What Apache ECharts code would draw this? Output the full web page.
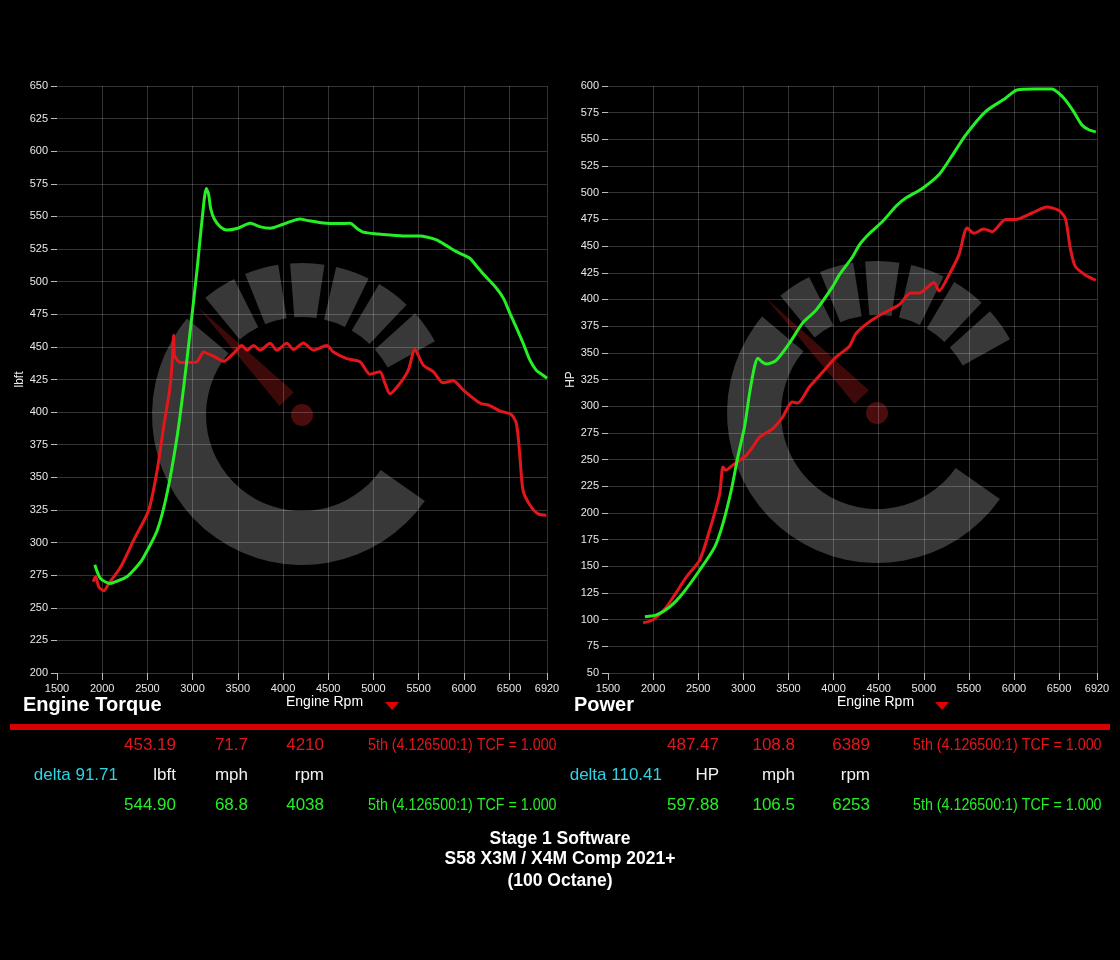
<!DOCTYPE html>
<html>
<head>
<meta charset="utf-8">
<script src="https://cdn.jsdelivr.net/npm/echarts@6/dist/echarts.min.js"></script>
<style>
html, body { margin: 0; padding: 0; background: #000; }
#chart { width: 1120px; height: 960px; }
</style>
</head>
<body>
<div id="chart"></div>
<script>
// dyno data, [rpm, value]
var torqueStock = [[1901,270],[1926,274],[1963,266],[2018,263],[2073,268.6],[2202,281],[2349,302],[2515,325],[2607,355],[2680,389],[2746,417],[2773,437],[2791,459],[2798,444],[2864,438],[2975,438],[3049,438.6],[3122,446],[3159,445],[3232,443],[3343,439],[3453,445],[3545,451],[3601,447.5],[3674,451],[3748,447.5],[3858,452.7],[3932,447.5],[4042,452.7],[4116,448],[4226,453],[4336,447.5],[4484,451],[4557,446],[4705,441],[4852,438.6],[4962,429],[5072,431],[5128,422],[5183,414],[5293,422],[5385,432],[5459,448],[5551,436],[5662,431],[5772,422.5],[5882,424],[5993,417],[6177,407],[6287,405],[6398,401],[6527,398],[6582,391],[6618,368],[6655,340],[6729,329],[6821,322],[6913,321]];
var torqueTuned = [[1918,283],[1981,272.5],[2092,268.6],[2150,270],[2276,274],[2400,283],[2460,289],[2607,309],[2718,338],[2828,381],[2901,419],[2975,463],[3049,509],[3104,547],[3152,571.5],[3177,567],[3200,556],[3240,548],[3306,542],[3380,539.6],[3500,541],[3637,544.7],[3750,542],[3858,541],[4000,544],[4079,546],[4189,548],[4263,547],[4447,545],[4600,544.5],[4741,544.7],[4815,541],[4888,538],[5050,536.5],[5183,535.7],[5350,535],[5514,535],[5600,534],[5698,532],[5800,528],[5919,523],[6066,518],[6140,512],[6213,506],[6361,495],[6440,487],[6508,476],[6580,465],[6655,453],[6730,440],[6802,432],[6860,429],[6920,426]];
var powerStock = [[1890,97],[2001,100],[2149,112],[2370,140],[2517,156],[2627,184],[2738,218],[2774,243],[2804,240],[2885,245],[3033,254],[3106,262],[3180,271],[3327,279],[3437,290],[3541,304],[3603,303],[3732,318],[3879,332],[4027,346],[4174,356],[4248,368],[4380,378],[4506,385],[4727,395],[4856,406],[4948,406],[5114,416],[5169,408],[5279,423],[5390,442],[5481,467],[5555,462],[5666,466],[5758,463.5],[5906,475],[6016,475],[6200,481],[6366,486.6],[6495,483.5],[6569,476],[6624,448],[6679,431],[6790,423],[6907,418]];
var powerTuned = [[1909,102.8],[2038,104.4],[2185,112],[2332,125],[2517,146.5],[2682,168],[2774,190],[2867,221.5],[2940,253],[3014,281],[3069,312],[3124,337],[3161,345],[3200,342],[3254,339.5],[3364,343],[3511,359],[3658,378],[3806,390],[3990,412],[4064,423],[4211,440],[4285,451],[4400,462],[4542,473],[4700,488],[4801,495],[4984,504],[5169,517],[5316,535],[5464,554],[5685,576],[5906,588.5],[6034,596.3],[6237,597.2],[6421,597.2],[6500,593],[6569,587],[6661,576],[6753,563.5],[6830,559],[6907,557]];

// readouts below each chart
var torqueStockRead = ['453.19', '71.7', '4210'];
var torqueTunedRead = ['544.90', '68.8', '4038'];
var torqueUnits = ['lbft', 'mph', 'rpm'];
var torqueDelta = 'delta 91.71';
var powerStockRead = ['487.47', '108.8', '6389'];
var powerTunedRead = ['597.88', '106.5', '6253'];
var powerUnits = ['HP', 'mph', 'rpm'];
var powerDelta = 'delta 110.41';
var gearText = '5th (4.126500:1) TCF = 1.000';
var footer = ['Stage 1 Software', 'S58 X3M / X4M Comp 2021+', '(100 Octane)'];

var RED = '#e3161b', GREEN = '#25ef25', CYAN = '#2fd3e3';
var SANS = '"Liberation Sans", Arial, sans-serif';
var D = Math.PI / 180;

var chart = echarts.init(document.getElementById('chart'));

function xAx(gi) {
    return {
        type: 'value', gridIndex: gi, min: 1500, max: 6920, interval: 500,
        axisLine: { show: false },
        axisTick: { show: true, length: 7, lineStyle: { color: '#bbb' } },
        axisLabel: { color: '#e8e8e8', fontSize: 11, fontFamily: SANS, margin: 10, showMaxLabel: true,
                     formatter: function (v) { return String(v); } },
        splitLine: { show: true, showMinLine: false, lineStyle: { color: 'rgba(255,255,255,0.2)' } }
    };
}
function yAx(gi, min, max, name) {
    return {
        type: 'value', gridIndex: gi, min: min, max: max, interval: 25,
        name: name, nameLocation: 'middle', nameGap: 20, nameRotate: 90,
        nameTextStyle: { color: '#eee', fontSize: 12, fontFamily: SANS },
        axisLine: { show: false },
        axisTick: { show: true, length: 6, lineStyle: { color: '#bbb' } },
        axisLabel: { color: '#e8e8e8', fontSize: 11, fontFamily: SANS, margin: 9 },
        splitLine: { show: true, lineStyle: { color: 'rgba(255,255,255,0.2)' } }
    };
}
function line(name, data, color, idx) {
    return {
        name: name, type: 'line', data: data, xAxisIndex: idx, yAxisIndex: idx,
        showSymbol: false, smooth: 0.25, lineStyle: { width: 3, color: color }, itemStyle: { color: color }
    };
}

// gauge logo behind the curves
function gauge(cx, cy, needleLen) {
    var els = [];
    var grey = '#383838';
    els.push({ type: 'sector', z: -1, silent: true,
        shape: { cx: cx, cy: cy, r: 150, r0: 96, startAngle: 35 * D, endAngle: 220 * D, clockwise: true },
        style: { fill: grey } });
    [123, 105.5, 88, 70.5, 53, 35.5].forEach(function (c) {
        els.push({ type: 'sector', z: -1, silent: true,
            shape: { cx: cx, cy: cy, r: 152, r0: 98, startAngle: -(c + 6.5) * D, endAngle: -(c - 6.5) * D, clockwise: true },
            style: { fill: grey } });
    });
    var a = 134 * D, dx = Math.cos(a), dy = -Math.sin(a);
    var bx = cx + 22 * dx, by = cy + 22 * dy;
    els.push({ type: 'polygon', z: -1, silent: true,
        shape: { points: [[cx + needleLen * dx, cy + needleLen * dy], [bx - 10 * dy, by + 10 * dx], [bx + 10 * dy, by - 10 * dx]] },
        style: { fill: '#3e0909' } });
    els.push({ type: 'circle', z: -1, silent: true, shape: { cx: cx, cy: cy, r: 11 }, style: { fill: '#4a0c0c' } });
    return els;
}

function txt(text, x, y, color, font, align, sx) {
    return { type: 'text', x: x, y: y, z: 10, silent: true, scaleX: sx || 1,
        style: { text: text, fill: color, font: font, align: align || 'left', verticalAlign: 'middle',
                 textAlign: align || 'left', textVerticalAlign: 'middle' } };
}

var NUM = '17px ' + SANS;
var GEAR = '17px ' + SANS;
function readouts(stock, tuned, units, delta, cols, deltaRight, gearX) {
    var els = [];
    for (var i = 0; i < 3; i++) {
        els.push(txt(stock[i], cols[i], 745, RED, NUM, 'right'));
        els.push(txt(units[i], cols[i], 775, '#f2f2f2', NUM, 'right'));
        els.push(txt(tuned[i], cols[i], 805, GREEN, NUM, 'right'));
    }
    els.push(txt(delta, deltaRight, 775, CYAN, NUM, 'right'));
    els.push(txt(gearText, gearX, 745, RED, GEAR, 'left', 0.84));
    els.push(txt(gearText, gearX, 805, GREEN, GEAR, 'left', 0.84));
    return els;
}

var graphics = [].concat(
    gauge(302, 415, 150),
    gauge(877, 413, 160),
    [
        txt('Engine Torque', 23, 705, '#fff', 'bold 20px ' + SANS),
        txt('Power', 574, 705, '#fff', 'bold 20px ' + SANS),
        txt('Engine Rpm', 286, 702, '#fff', '14px ' + SANS),
        txt('Engine Rpm', 837, 702, '#fff', '14px ' + SANS),
        { type: 'polygon', z: 10, silent: true, shape: { points: [[385, 702], [399, 702], [392, 710]] }, style: { fill: '#e00000' } },
        { type: 'polygon', z: 10, silent: true, shape: { points: [[935, 702], [949, 702], [942, 710]] }, style: { fill: '#e00000' } },
        { type: 'rect', z: 10, silent: true, shape: { x: 10, y: 724, width: 1100, height: 6 }, style: { fill: '#d80000' } }
    ],
    readouts(torqueStockRead, torqueTunedRead, torqueUnits, torqueDelta, [176, 248, 324], 118, 368),
    readouts(powerStockRead, powerTunedRead, powerUnits, powerDelta, [719, 795, 870], 662, 913),
    [
        txt(footer[0], 560, 839, '#fff', 'bold 17.5px ' + SANS, 'center'),
        txt(footer[1], 560, 859, '#fff', 'bold 17.5px ' + SANS, 'center'),
        txt(footer[2], 560, 881, '#fff', 'bold 17.5px ' + SANS, 'center')
    ]
);

var option = {
    backgroundColor: '#000',
    animation: false,
    grid: [
        { left: 57, top: 86, width: 490, height: 587 },
        { left: 608, top: 86, width: 489, height: 587 }
    ],
    xAxis: [xAx(0), xAx(1)],
    yAxis: [yAx(0, 200, 650, 'lbft'), yAx(1, 50, 600, 'HP')],
    series: [
        line('Stock torque', torqueStock, RED, 0),
        line('Stage 1 torque', torqueTuned, GREEN, 0),
        line('Stock power', powerStock, RED, 1),
        line('Stage 1 power', powerTuned, GREEN, 1)
    ],
    graphic: graphics
};
chart.setOption(option);

window.onresize = function () {
    chart.resize();
};
</script>
</body>
</html>
